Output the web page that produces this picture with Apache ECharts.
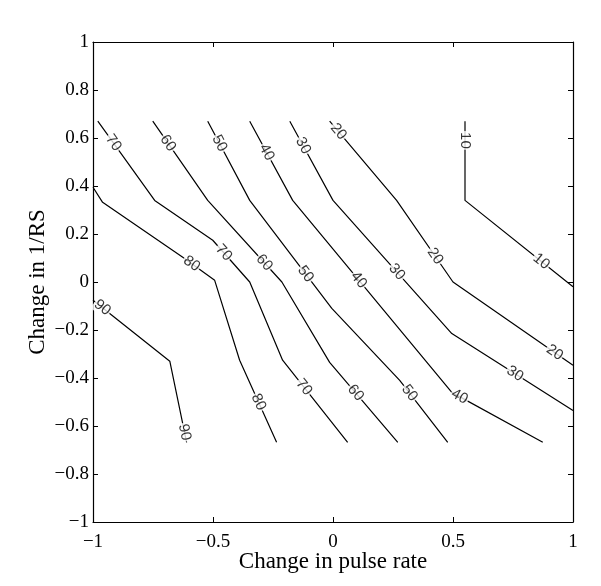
<!DOCTYPE html>
<html><head><meta charset="utf-8">
<script src="https://cdn.jsdelivr.net/npm/echarts@6/dist/echarts.min.js"></script>
<style>html,body{margin:0;padding:0;background:#fff}#c{width:601px;height:586px}</style>
</head><body><div id="c"></div>
<script>
// tick labels
const xTickValues = [-1, -0.5, 0, 0.5, 1];
const xTickLabels = ['\u22121', '\u22120.5', '0', '0.5', '1'];
const yTickValues = [-1, -0.8, -0.6, -0.4, -0.2, 0, 0.2, 0.4, 0.6, 0.8, 1];
const yTickLabels = ['\u22121', '\u22120.8', '\u22120.6', '\u22120.4', '\u22120.2', '0', '0.2', '0.4', '0.6', '0.8', '1'];

// contour levels and their polylines [pulse rate change, 1/RS change]
const levels = [10, 20, 30, 40, 50, 60, 70, 80, 90];
const c10 = [[0.55, 0.67], [0.55, 0.34], [1, -0.02]];
const c20 = [[-0.014, 0.67], [0.265, 0.34], [0.5, 0], [1, -0.347]];
const c30 = [[-0.18, 0.67], [0, 0.34], [0.495, -0.215], [1, -0.535]];
const c40 = [[-0.347, 0.67], [-0.168, 0.34], [0.495, -0.46], [0.874, -0.668]];
const c50 = [[-0.522, 0.67], [-0.347, 0.34], [-0.005, -0.11], [0.278, -0.41], [0.478, -0.668]];
const c60 = [[-0.751, 0.67], [-0.522, 0.34], [-0.213, 0], [-0.014, -0.335], [0.27, -0.668]];
const c70 = [[-0.98, 0.67], [-0.743, 0.34], [-0.501, 0.174], [-0.347, 0], [-0.21, -0.326], [0.061, -0.668]];
const c80 = [[-1, 0.395], [-0.96, 0.332], [-0.626, 0.103], [-0.493, 0.007], [-0.389, -0.326], [-0.235, -0.668]];
const c90 = [[-1, -0.076], [-0.68, -0.33], [-0.61, -0.668]];

// contour label anchor points
const l10 = [[0.55, 0.59], [0.862, 0.077]];
const l20 = [[0.015, 0.62], [0.415, 0.10], [0.915, -0.306]];
const l30 = [[-0.13, 0.565], [0.265, 0.04], [0.749, -0.397]];
const l40 = [[-0.285, 0.536], [0.09, -0.006], [0.528, -0.477]];
const l50 = [[-0.472, 0.578], [-0.105, 0.04], [0.307, -0.472]];
const l60 = [[-0.688, 0.578], [-0.276, 0.09], [0.09, -0.465]];
const l70 = [[-0.917, 0.578], [-0.459, 0.119], [-0.126, -0.443]];
const l80 = [[-0.588, 0.078], [-0.314, -0.502]];
const l90 = [[-0.96, -0.105], [-0.618, -0.626]];

const lines = [c10, c20, c30, c40, c50, c60, c70, c80, c90];
const labs = [l10, l20, l30, l40, l50, l60, l70, l80, l90];

function fmt(vals, labels) {
  return function (v) {
    for (let i = 0; i < vals.length; i++) if (Math.abs(vals[i] - v) < 1e-6) return labels[i];
    return '';
  };
}

// snap label to nearest segment, get angle
function snap(poly, p) {
  let best = null;
  for (let i = 0; i < poly.length - 1; i++) {
    const a = poly[i], b = poly[i + 1];
    const dx = b[0] - a[0], dy = b[1] - a[1];
    const L = dx * dx + dy * dy;
    let t = ((p[0] - a[0]) * dx + (p[1] - a[1]) * dy) / L;
    t = Math.max(0, Math.min(1, t));
    const q = [a[0] + t * dx, a[1] + t * dy];
    const d = (q[0] - p[0]) ** 2 + (q[1] - p[1]) ** 2;
    if (!best || d < best.d) best = { d: d, q: q, ang: Math.atan2(dy, dx) * 180 / Math.PI };
  }
  return best;
}

const series = [];
lines.forEach(function (poly, i) {
  series.push({
    type: 'line', data: poly, xAxisIndex: 0, yAxisIndex: 0,
    showSymbol: false, symbol: 'none', silent: true, z: 2,
    lineStyle: { color: '#000', width: 1.2 }
  });
});
const labelData = [];
labs.forEach(function (pts, i) {
  pts.forEach(function (p) {
    const s = snap(lines[i], p);
    labelData.push({ value: [s.q[0], s.q[1], levels[i]], label: { rotate: s.ang } });
  });
});
series.push({
  type: 'scatter', data: labelData, symbol: 'circle', symbolSize: 1, z: 5, silent: true,
  itemStyle: { color: 'rgba(0,0,0,0)' },
  label: {
    show: true, position: 'inside', formatter: function (p) { return String(p.value[2]); },
    fontFamily: 'Liberation Sans', fontSize: 15, color: '#000',
    backgroundColor: '#fff', padding: [0, 1]
  }
});

const axisCommon = {
  type: 'value', min: -1, max: 1,
  splitLine: { show: false },
  axisLine: { show: true, onZero: false, lineStyle: { color: '#000', width: 1.2 } },
  axisTick: { show: true, inside: true, length: 5, lineStyle: { color: '#000' } }
};
const tickFont = { fontFamily: 'Liberation Serif', fontSize: 19, color: '#000' };

const option = {
  animation: false,
  backgroundColor: '#fff',
  grid: { left: 93, top: 42, width: 480, height: 480 },
  xAxis: [
    Object.assign({}, axisCommon, {
      position: 'bottom', interval: 0.5,
      axisLabel: Object.assign({ formatter: fmt(xTickValues, xTickLabels), margin: 11 }, tickFont),
      name: 'Change in pulse rate', nameLocation: 'middle', nameGap: 28, nameMoveOverlap: false,
      nameTextStyle: { fontFamily: 'Liberation Serif', fontSize: 23, color: '#000' }
    }),
    Object.assign({}, axisCommon, { position: 'top', interval: 0.5, axisLabel: { show: false } })
  ],
  yAxis: [
    Object.assign({}, axisCommon, {
      position: 'left', interval: 0.2,
      axisLabel: Object.assign({ formatter: fmt(yTickValues, yTickLabels), margin: 4 }, tickFont),
      name: 'Change in 1/RS', nameLocation: 'middle', nameGap: 44, nameRotate: 90, nameMoveOverlap: false,
      nameTextStyle: { fontFamily: 'Liberation Serif', fontSize: 23, color: '#000' }
    }),
    Object.assign({}, axisCommon, { position: 'right', interval: 0.2, axisLabel: { show: false } })
  ],
  series: series
};

const chart = echarts.init(document.getElementById('c'), null, { renderer: 'canvas' });
chart.setOption(option);
</script>
</body></html>
